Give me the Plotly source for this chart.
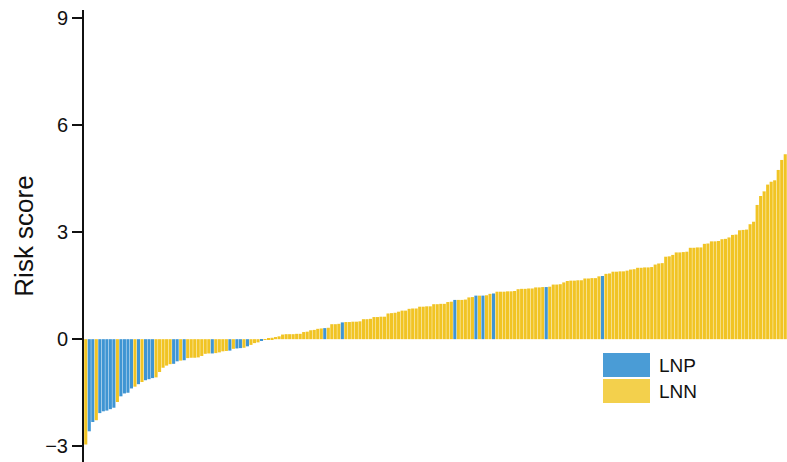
import plotly.graph_objects as go

# Risk score per sample, sorted ascending
risk_score = [
    -2.95, -2.58, -2.32, -2.27, -2.07, -2.02, -2.00, -1.96, -1.92, -1.76,
    -1.60, -1.52, -1.50, -1.38, -1.33, -1.26, -1.20, -1.15, -1.12, -1.09,
    -1.07, -0.92, -0.80, -0.74, -0.70, -0.69, -0.62, -0.60, -0.59, -0.53,
    -0.52, -0.52, -0.51, -0.47, -0.41, -0.40, -0.40, -0.39, -0.37, -0.34,
    -0.33, -0.32, -0.27, -0.26, -0.25, -0.24, -0.20, -0.16, -0.11, -0.09,
    -0.05, -0.02, 0.02, 0.04, 0.06, 0.08, 0.13, 0.14, 0.14, 0.14,
    0.15, 0.15, 0.20, 0.21, 0.25, 0.26, 0.29, 0.30, 0.31, 0.32,
    0.42, 0.42, 0.43, 0.47, 0.48, 0.48, 0.49, 0.49, 0.50, 0.56,
    0.56, 0.57, 0.62, 0.62, 0.63, 0.63, 0.72, 0.73, 0.74, 0.77,
    0.80, 0.80, 0.85, 0.86, 0.86, 0.91, 0.91, 0.92, 0.92, 0.98,
    0.98, 0.99, 0.99, 1.04, 1.05, 1.10, 1.10, 1.10, 1.11, 1.17,
    1.18, 1.22, 1.22, 1.22, 1.23, 1.27, 1.28, 1.33, 1.33, 1.33,
    1.34, 1.34, 1.35, 1.40, 1.41, 1.41, 1.42, 1.42, 1.45, 1.45,
    1.46, 1.46, 1.47, 1.53, 1.53, 1.54, 1.59, 1.63, 1.64, 1.64,
    1.65, 1.65, 1.70, 1.70, 1.71, 1.71, 1.76, 1.77, 1.83, 1.84,
    1.89, 1.89, 1.90, 1.90, 1.92, 1.95, 1.96, 2.00, 2.00, 2.01,
    2.01, 2.02, 2.09, 2.12, 2.13, 2.31, 2.32, 2.36, 2.43, 2.43,
    2.44, 2.45, 2.56, 2.56, 2.57, 2.57, 2.67, 2.68, 2.74, 2.74,
    2.75, 2.80, 2.81, 2.85, 2.92, 2.93, 3.05, 3.06, 3.07, 3.22,
    3.29, 3.76, 4.01, 4.14, 4.33, 4.41, 4.45, 4.74, 5.02, 5.18,
]

# Sample positions (in sorted order) with lymph-node-positive status
lnp_positions = [
    1, 2, 4, 5, 6, 7, 8, 10, 11, 12, 13, 15, 17, 18, 19, 25, 26, 28,
    36, 41, 43, 44, 46, 50, 68, 73, 105, 111, 113, 116, 131, 147,
]

group_labels = ["LNP", "LNN"]
group_colors = {"LNP": "#3F95D3", "LNN": "#F1C424"}
key_colors = {"LNP": "#4A9CD6", "LNN": "#F3D04C"}
y_ticks = [-3, 0, 3, 6, 9]

samples = list(range(len(risk_score)))
status = ["LNP" if i in lnp_positions else "LNN" for i in samples]

fig = go.Figure()
fig.add_trace(go.Bar(
    x=samples,
    y=risk_score,
    marker=dict(color=[group_colors[s] for s in status], line=dict(width=0)),
    showlegend=False,
    hoverinfo="x+y",
))

# Legend drawn as large colour keys with labels
font_family = "Liberation Sans, Arial, sans-serif"
key_x0, key_x1 = (603 - 84) / 703, (650 - 84) / 703
key_rows = [(353, 377), (379, 403)]
for label, (top, bottom) in zip(group_labels, key_rows):
    y0 = 1 - (bottom - 10) / 452
    y1 = 1 - (top - 10) / 452
    fig.add_shape(type="rect", xref="paper", yref="paper",
                  x0=key_x0, x1=key_x1, y0=y0, y1=y1,
                  fillcolor=key_colors[label], line=dict(width=0))
    fig.add_annotation(xref="paper", yref="paper", x=(657 - 84) / 703,
                       y=(y0 + y1) / 2, text=label, showarrow=False,
                       xanchor="left", yanchor="middle",
                       font=dict(family=font_family, size=19, color="#111111"))

fig.update_layout(
    width=787, height=462,
    margin=dict(l=84, r=0, t=10, b=0),
    plot_bgcolor="white", paper_bgcolor="white",
    bargap=0.12,
    font=dict(family=font_family, color="#111111"),
    xaxis=dict(range=[-0.5, len(risk_score) - 0.5], visible=False,
               showgrid=False, zeroline=False),
    yaxis=dict(
        range=[-3.44, 9.22],
        tickvals=y_ticks,
        ticks="outside", ticklen=10, tickwidth=2, tickcolor="#111111",
        showline=True, linecolor="#111111", linewidth=2,
        showgrid=False, zeroline=False,
        tickfont=dict(size=20, color="#111111"),
        title=dict(text="Risk score", font=dict(size=26, color="#111111"),
                   standoff=4),
    ),
)

fig.write_html("out.html")
